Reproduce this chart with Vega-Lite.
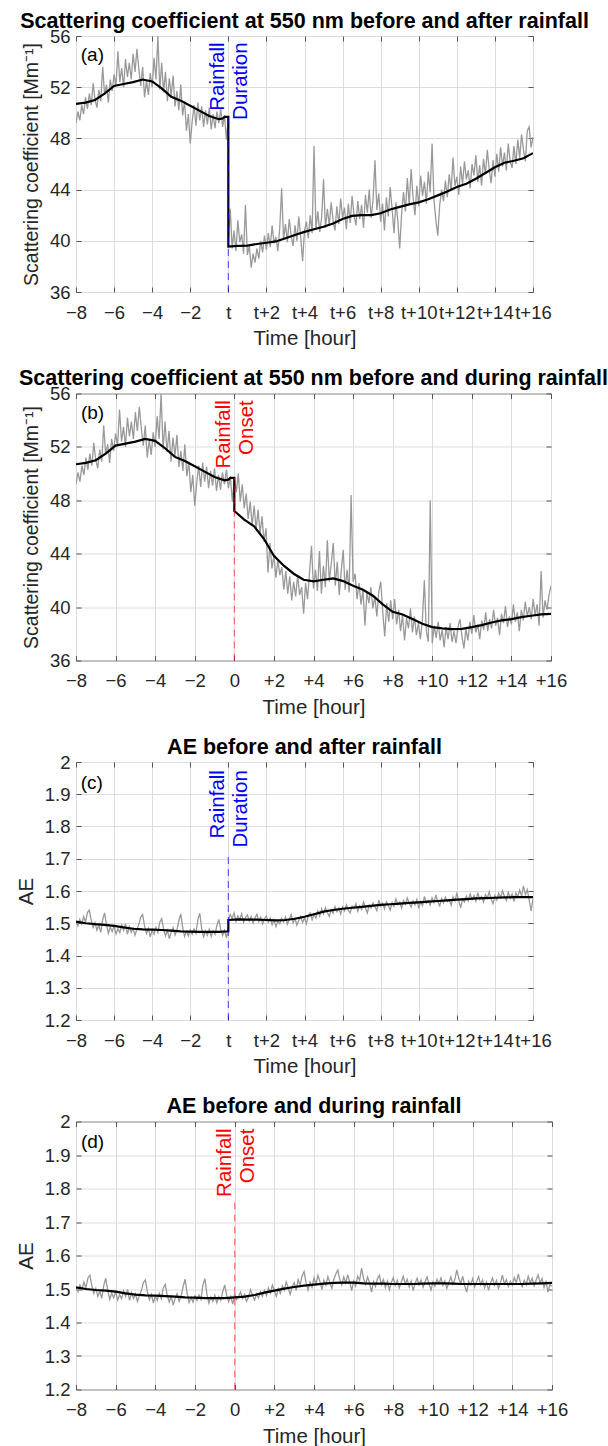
{
"$schema": "https://vega.github.io/schema/vega-lite/v6.json",
"padding": {"left": 15, "top": 10, "right": 5, "bottom": 0},
"bounds": "flush",
"spacing": 101.5,
"config": {
 "font": "Liberation Sans",
 "view": {"stroke": "#555555", "strokeWidth": 1},
 "axis": {"domain": false, "grid": true, "gridColor": "#dcdcdc", "gridWidth": 1, "tickColor": "#555555", "tickSize": -5, "tickWidth": 1, "labelFont": "Liberation Sans", "labelFontSize": 18.5, "labelColor": "#262626", "labelFlush": false, "labelOverlap": false, "labelBound": false, "titleFont": "Liberation Sans", "titleFontSize": 20.5, "titleFontWeight": "normal", "titleColor": "#262626"},
 "axisX": {"titlePadding": 7, "labelPadding": 16},
 "axisY": {"titlePadding": 8, "labelPadding": 11},
 "title": {"font": "Liberation Sans", "fontSize": 21.5, "fontWeight": "bold", "color": "#000000", "anchor": "middle", "offset": -5},
 "text": {"font": "Liberation Sans"}
},
"datasets": {
 "scPre": [{"t":-8,"v":49.2},{"t":-7.9,"v":50.1},{"t":-7.8,"v":49.4},{"t":-7.7,"v":50.6},{"t":-7.6,"v":49.9},{"t":-7.5,"v":51.2},{"t":-7.4,"v":50.3},{"t":-7.3,"v":51.5},{"t":-7.2,"v":50.6},{"t":-7.1,"v":52.3},{"t":-7,"v":51.0},{"t":-6.9,"v":50.4},{"t":-6.8,"v":51.8},{"t":-6.7,"v":50.9},{"t":-6.6,"v":53.6},{"t":-6.5,"v":51.4},{"t":-6.4,"v":52.2},{"t":-6.3,"v":50.8},{"t":-6.2,"v":52.6},{"t":-6.1,"v":51.7},{"t":-6,"v":53.0},{"t":-5.9,"v":52.1},{"t":-5.8,"v":54.8},{"t":-5.7,"v":52.4},{"t":-5.6,"v":53.5},{"t":-5.5,"v":52.0},{"t":-5.4,"v":54.2},{"t":-5.3,"v":52.8},{"t":-5.2,"v":53.9},{"t":-5.1,"v":52.6},{"t":-5,"v":54.6},{"t":-4.9,"v":53.2},{"t":-4.8,"v":55.0},{"t":-4.7,"v":53.4},{"t":-4.6,"v":52.1},{"t":-4.5,"v":53.6},{"t":-4.4,"v":51.2},{"t":-4.3,"v":52.5},{"t":-4.2,"v":51.4},{"t":-4.1,"v":53.1},{"t":-4,"v":52.0},{"t":-3.9,"v":54.3},{"t":-3.8,"v":52.6},{"t":-3.7,"v":56.0},{"t":-3.6,"v":51.8},{"t":-3.5,"v":53.9},{"t":-3.4,"v":51.6},{"t":-3.3,"v":53.2},{"t":-3.2,"v":50.9},{"t":-3.1,"v":52.7},{"t":-3,"v":51.3},{"t":-2.9,"v":52.9},{"t":-2.8,"v":50.5},{"t":-2.7,"v":51.7},{"t":-2.6,"v":50.2},{"t":-2.5,"v":52.2},{"t":-2.4,"v":49.8},{"t":-2.3,"v":50.9},{"t":-2.2,"v":48.6},{"t":-2.1,"v":49.9},{"t":-2,"v":47.6},{"t":-1.9,"v":49.3},{"t":-1.8,"v":50.6},{"t":-1.7,"v":49.0},{"t":-1.6,"v":50.8},{"t":-1.5,"v":49.4},{"t":-1.4,"v":50.5},{"t":-1.3,"v":48.9},{"t":-1.2,"v":50.2},{"t":-1.1,"v":49.1},{"t":-1,"v":50.4},{"t":-0.9,"v":48.7},{"t":-0.8,"v":49.9},{"t":-0.7,"v":48.8},{"t":-0.6,"v":50.1},{"t":-0.5,"v":49.2},{"t":-0.4,"v":50.3},{"t":-0.3,"v":48.9},{"t":-0.2,"v":49.8},{"t":-0.1,"v":47.9},{"t":0,"v":49.6}],
 "scPostA": [{"t":0,"v":39.8},{"t":0.1,"v":42.5},{"t":0.2,"v":39.4},{"t":0.3,"v":40.8},{"t":0.4,"v":39.2},{"t":0.5,"v":41.6},{"t":0.6,"v":39.9},{"t":0.7,"v":40.5},{"t":0.8,"v":39.0},{"t":0.9,"v":42.8},{"t":1,"v":38.9},{"t":1.1,"v":39.6},{"t":1.2,"v":37.9},{"t":1.3,"v":39.0},{"t":1.4,"v":38.3},{"t":1.5,"v":39.4},{"t":1.6,"v":38.6},{"t":1.7,"v":40.0},{"t":1.8,"v":39.1},{"t":1.9,"v":40.4},{"t":2,"v":39.3},{"t":2.1,"v":40.6},{"t":2.2,"v":39.5},{"t":2.3,"v":41.2},{"t":2.4,"v":39.8},{"t":2.5,"v":40.3},{"t":2.6,"v":39.2},{"t":2.7,"v":41.0},{"t":2.8,"v":44.1},{"t":2.9,"v":40.1},{"t":3,"v":41.3},{"t":3.1,"v":39.9},{"t":3.2,"v":41.7},{"t":3.3,"v":40.4},{"t":3.4,"v":39.6},{"t":3.5,"v":41.2},{"t":3.6,"v":40.0},{"t":3.7,"v":41.9},{"t":3.8,"v":40.3},{"t":3.9,"v":38.4},{"t":4,"v":40.8},{"t":4.1,"v":41.5},{"t":4.2,"v":40.2},{"t":4.3,"v":42.0},{"t":4.4,"v":40.6},{"t":4.5,"v":47.4},{"t":4.6,"v":40.9},{"t":4.7,"v":42.3},{"t":4.8,"v":40.7},{"t":4.9,"v":41.8},{"t":5,"v":44.8},{"t":5.1,"v":41.0},{"t":5.2,"v":42.5},{"t":5.3,"v":41.2},{"t":5.4,"v":43.0},{"t":5.5,"v":41.6},{"t":5.6,"v":40.8},{"t":5.7,"v":42.7},{"t":5.8,"v":41.3},{"t":5.9,"v":43.3},{"t":6,"v":41.8},{"t":6.1,"v":42.6},{"t":6.2,"v":40.9},{"t":6.3,"v":42.9},{"t":6.4,"v":41.4},{"t":6.5,"v":43.5},{"t":6.6,"v":42.0},{"t":6.7,"v":41.2},{"t":6.8,"v":43.1},{"t":6.9,"v":41.7},{"t":7,"v":42.8},{"t":7.1,"v":41.0},{"t":7.2,"v":43.6},{"t":7.3,"v":42.2},{"t":7.4,"v":44.0},{"t":7.5,"v":41.8},{"t":7.6,"v":43.2},{"t":7.7,"v":46.3},{"t":7.8,"v":42.4},{"t":7.9,"v":43.7},{"t":8,"v":41.5},{"t":8.1,"v":42.9},{"t":8.2,"v":40.8},{"t":8.3,"v":43.4},{"t":8.4,"v":41.9},{"t":8.5,"v":44.2},{"t":8.6,"v":42.5},{"t":8.7,"v":40.6},{"t":8.8,"v":43.0},{"t":8.9,"v":41.6},{"t":9,"v":39.4},{"t":9.1,"v":42.1},{"t":9.2,"v":43.8},{"t":9.3,"v":42.3},{"t":9.4,"v":44.9},{"t":9.5,"v":42.8},{"t":9.6,"v":45.6},{"t":9.7,"v":43.4},{"t":9.8,"v":42.0},{"t":9.9,"v":44.3},{"t":10,"v":42.7},{"t":10.1,"v":45.1},{"t":10.2,"v":43.5},{"t":10.3,"v":44.6},{"t":10.4,"v":42.9},{"t":10.5,"v":45.4},{"t":10.6,"v":43.8},{"t":10.7,"v":47.6},{"t":10.8,"v":43.2},{"t":10.9,"v":41.6},{"t":11,"v":40.4},{"t":11.1,"v":42.8},{"t":11.2,"v":44.0},{"t":11.3,"v":43.1},{"t":11.4,"v":44.7},{"t":11.5,"v":43.4},{"t":11.6,"v":45.2},{"t":11.7,"v":43.9},{"t":11.8,"v":46.5},{"t":11.9,"v":44.3},{"t":12,"v":45.0},{"t":12.1,"v":43.6},{"t":12.2,"v":45.8},{"t":12.3,"v":44.4},{"t":12.4,"v":46.2},{"t":12.5,"v":44.8},{"t":12.6,"v":45.5},{"t":12.7,"v":44.1},{"t":12.8,"v":46.0},{"t":12.9,"v":45.1},{"t":13,"v":46.7},{"t":13.1,"v":44.6},{"t":13.2,"v":45.9},{"t":13.3,"v":44.3},{"t":13.4,"v":46.4},{"t":13.5,"v":45.2},{"t":13.6,"v":47.1},{"t":13.7,"v":45.6},{"t":13.8,"v":44.5},{"t":13.9,"v":46.3},{"t":14,"v":45.0},{"t":14.1,"v":46.8},{"t":14.2,"v":45.4},{"t":14.3,"v":47.3},{"t":14.4,"v":45.8},{"t":14.5,"v":46.9},{"t":14.6,"v":45.5},{"t":14.7,"v":47.6},{"t":14.8,"v":46.2},{"t":14.9,"v":45.7},{"t":15,"v":47.4},{"t":15.1,"v":46.0},{"t":15.2,"v":47.9},{"t":15.3,"v":46.5},{"t":15.4,"v":48.3},{"t":15.5,"v":47.1},{"t":15.6,"v":46.2},{"t":15.7,"v":48.6},{"t":15.8,"v":48.9},{"t":15.9,"v":47.3},{"t":16,"v":48.1}],
 "scPostB": [{"t":0,"v":49.7},{"t":0.1,"v":48.6},{"t":0.2,"v":50.0},{"t":0.3,"v":47.9},{"t":0.4,"v":49.2},{"t":0.5,"v":47.4},{"t":0.6,"v":48.5},{"t":0.7,"v":46.6},{"t":0.8,"v":47.9},{"t":0.9,"v":46.1},{"t":1,"v":47.6},{"t":1.1,"v":45.8},{"t":1.2,"v":47.3},{"t":1.3,"v":45.5},{"t":1.4,"v":46.8},{"t":1.5,"v":44.9},{"t":1.6,"v":45.9},{"t":1.7,"v":42.6},{"t":1.8,"v":44.8},{"t":1.9,"v":42.9},{"t":2,"v":43.9},{"t":2.1,"v":42.2},{"t":2.2,"v":43.5},{"t":2.3,"v":42.4},{"t":2.4,"v":43.0},{"t":2.5,"v":41.3},{"t":2.6,"v":42.7},{"t":2.7,"v":41.0},{"t":2.8,"v":42.3},{"t":2.9,"v":40.5},{"t":3,"v":41.9},{"t":3.1,"v":40.8},{"t":3.2,"v":42.4},{"t":3.3,"v":40.9},{"t":3.4,"v":41.5},{"t":3.5,"v":39.5},{"t":3.6,"v":41.8},{"t":3.7,"v":40.6},{"t":3.8,"v":42.6},{"t":3.9,"v":44.6},{"t":4,"v":41.4},{"t":4.1,"v":42.8},{"t":4.2,"v":41.2},{"t":4.3,"v":44.2},{"t":4.4,"v":41.0},{"t":4.5,"v":43.1},{"t":4.6,"v":41.5},{"t":4.7,"v":45.0},{"t":4.8,"v":41.9},{"t":4.9,"v":43.3},{"t":5,"v":44.8},{"t":5.1,"v":41.6},{"t":5.2,"v":43.4},{"t":5.3,"v":40.9},{"t":5.4,"v":42.7},{"t":5.5,"v":44.3},{"t":5.6,"v":41.3},{"t":5.7,"v":42.8},{"t":5.8,"v":41.1},{"t":5.9,"v":48.4},{"t":6,"v":41.9},{"t":6.1,"v":42.5},{"t":6.2,"v":40.6},{"t":6.3,"v":41.8},{"t":6.4,"v":40.2},{"t":6.5,"v":41.3},{"t":6.6,"v":38.6},{"t":6.7,"v":41.1},{"t":6.8,"v":40.3},{"t":6.9,"v":41.5},{"t":7,"v":39.9},{"t":7.1,"v":40.8},{"t":7.2,"v":39.3},{"t":7.3,"v":41.2},{"t":7.4,"v":41.9},{"t":7.5,"v":39.6},{"t":7.6,"v":37.8},{"t":7.7,"v":40.3},{"t":7.8,"v":38.9},{"t":7.9,"v":40.5},{"t":8,"v":39.1},{"t":8.1,"v":40.6},{"t":8.2,"v":38.7},{"t":8.3,"v":39.8},{"t":8.4,"v":38.2},{"t":8.5,"v":39.4},{"t":8.6,"v":37.5},{"t":8.7,"v":39.2},{"t":8.8,"v":38.4},{"t":8.9,"v":39.9},{"t":9,"v":38.1},{"t":9.1,"v":39.3},{"t":9.2,"v":37.9},{"t":9.3,"v":38.8},{"t":9.4,"v":37.6},{"t":9.5,"v":39.0},{"t":9.6,"v":42.0},{"t":9.7,"v":38.2},{"t":9.8,"v":37.4},{"t":9.9,"v":48.0},{"t":10,"v":37.3},{"t":10.1,"v":38.6},{"t":10.2,"v":37.7},{"t":10.3,"v":38.9},{"t":10.4,"v":37.5},{"t":10.5,"v":38.3},{"t":10.6,"v":37.0},{"t":10.7,"v":38.5},{"t":10.8,"v":37.6},{"t":10.9,"v":38.8},{"t":11,"v":37.4},{"t":11.1,"v":38.2},{"t":11.2,"v":37.3},{"t":11.3,"v":38.5},{"t":11.4,"v":39.1},{"t":11.5,"v":37.8},{"t":11.6,"v":36.9},{"t":11.7,"v":38.4},{"t":11.8,"v":37.5},{"t":11.9,"v":38.9},{"t":12,"v":38.0},{"t":12.1,"v":39.4},{"t":12.2,"v":38.1},{"t":12.3,"v":38.7},{"t":12.4,"v":37.6},{"t":12.5,"v":39.0},{"t":12.6,"v":38.3},{"t":12.7,"v":39.6},{"t":12.8,"v":38.2},{"t":12.9,"v":39.1},{"t":13,"v":38.4},{"t":13.1,"v":39.8},{"t":13.2,"v":38.6},{"t":13.3,"v":39.2},{"t":13.4,"v":37.9},{"t":13.5,"v":39.5},{"t":13.6,"v":38.8},{"t":13.7,"v":40.1},{"t":13.8,"v":38.5},{"t":13.9,"v":39.3},{"t":14,"v":38.7},{"t":14.1,"v":40.2},{"t":14.2,"v":38.9},{"t":14.3,"v":39.6},{"t":14.4,"v":38.2},{"t":14.5,"v":39.8},{"t":14.6,"v":39.0},{"t":14.7,"v":40.4},{"t":14.8,"v":39.3},{"t":14.9,"v":40.0},{"t":15,"v":39.1},{"t":15.1,"v":40.6},{"t":15.2,"v":39.4},{"t":15.3,"v":40.2},{"t":15.4,"v":38.6},{"t":15.5,"v":42.7},{"t":15.6,"v":39.2},{"t":15.7,"v":40.5},{"t":15.8,"v":39.8},{"t":15.9,"v":40.9},{"t":16,"v":41.6}],
 "aePre": [{"t":-8,"v":1.505},{"t":-7.9,"v":1.492},{"t":-7.8,"v":1.512},{"t":-7.7,"v":1.498},{"t":-7.6,"v":1.521},{"t":-7.5,"v":1.503},{"t":-7.4,"v":1.533},{"t":-7.3,"v":1.541},{"t":-7.2,"v":1.509},{"t":-7.1,"v":1.487},{"t":-7,"v":1.502},{"t":-6.9,"v":1.478},{"t":-6.8,"v":1.494},{"t":-6.7,"v":1.472},{"t":-6.6,"v":1.511},{"t":-6.5,"v":1.532},{"t":-6.4,"v":1.496},{"t":-6.3,"v":1.469},{"t":-6.2,"v":1.488},{"t":-6.1,"v":1.474},{"t":-6,"v":1.492},{"t":-5.9,"v":1.467},{"t":-5.8,"v":1.483},{"t":-5.7,"v":1.471},{"t":-5.6,"v":1.495},{"t":-5.5,"v":1.478},{"t":-5.4,"v":1.499},{"t":-5.3,"v":1.466},{"t":-5.2,"v":1.489},{"t":-5.1,"v":1.472},{"t":-5,"v":1.485},{"t":-4.9,"v":1.463},{"t":-4.8,"v":1.481},{"t":-4.7,"v":1.496},{"t":-4.6,"v":1.519},{"t":-4.5,"v":1.527},{"t":-4.4,"v":1.491},{"t":-4.3,"v":1.468},{"t":-4.2,"v":1.484},{"t":-4.1,"v":1.458},{"t":-4,"v":1.479},{"t":-3.9,"v":1.466},{"t":-3.8,"v":1.487},{"t":-3.7,"v":1.471},{"t":-3.6,"v":1.503},{"t":-3.5,"v":1.514},{"t":-3.4,"v":1.482},{"t":-3.3,"v":1.461},{"t":-3.2,"v":1.478},{"t":-3.1,"v":1.452},{"t":-3,"v":1.473},{"t":-2.9,"v":1.486},{"t":-2.8,"v":1.463},{"t":-2.7,"v":1.479},{"t":-2.6,"v":1.507},{"t":-2.5,"v":1.529},{"t":-2.4,"v":1.488},{"t":-2.3,"v":1.459},{"t":-2.2,"v":1.475},{"t":-2.1,"v":1.461},{"t":-2,"v":1.479},{"t":-1.9,"v":1.466},{"t":-1.8,"v":1.482},{"t":-1.7,"v":1.469},{"t":-1.6,"v":1.512},{"t":-1.5,"v":1.531},{"t":-1.4,"v":1.484},{"t":-1.3,"v":1.458},{"t":-1.2,"v":1.476},{"t":-1.1,"v":1.463},{"t":-1,"v":1.481},{"t":-0.9,"v":1.459},{"t":-0.8,"v":1.477},{"t":-0.7,"v":1.466},{"t":-0.6,"v":1.493},{"t":-0.5,"v":1.512},{"t":-0.4,"v":1.481},{"t":-0.3,"v":1.462},{"t":-0.2,"v":1.478},{"t":-0.1,"v":1.455},{"t":0,"v":1.486}],
 "aePostC": [{"t":0,"v":1.508},{"t":0.1,"v":1.527},{"t":0.2,"v":1.514},{"t":0.3,"v":1.532},{"t":0.4,"v":1.506},{"t":0.5,"v":1.523},{"t":0.6,"v":1.511},{"t":0.7,"v":1.529},{"t":0.8,"v":1.503},{"t":0.9,"v":1.518},{"t":1,"v":1.526},{"t":1.1,"v":1.507},{"t":1.2,"v":1.521},{"t":1.3,"v":1.501},{"t":1.4,"v":1.517},{"t":1.5,"v":1.528},{"t":1.6,"v":1.505},{"t":1.7,"v":1.519},{"t":1.8,"v":1.498},{"t":1.9,"v":1.514},{"t":2,"v":1.522},{"t":2.1,"v":1.503},{"t":2.2,"v":1.516},{"t":2.3,"v":1.495},{"t":2.4,"v":1.511},{"t":2.5,"v":1.489},{"t":2.6,"v":1.507},{"t":2.7,"v":1.498},{"t":2.8,"v":1.515},{"t":2.9,"v":1.504},{"t":3,"v":1.519},{"t":3.1,"v":1.497},{"t":3.2,"v":1.512},{"t":3.3,"v":1.527},{"t":3.4,"v":1.501},{"t":3.5,"v":1.515},{"t":3.6,"v":1.494},{"t":3.7,"v":1.509},{"t":3.8,"v":1.521},{"t":3.9,"v":1.502},{"t":4,"v":1.517},{"t":4.1,"v":1.499},{"t":4.2,"v":1.524},{"t":4.3,"v":1.532},{"t":4.4,"v":1.511},{"t":4.5,"v":1.527},{"t":4.6,"v":1.516},{"t":4.7,"v":1.538},{"t":4.8,"v":1.522},{"t":4.9,"v":1.545},{"t":5,"v":1.529},{"t":5.1,"v":1.548},{"t":5.2,"v":1.533},{"t":5.3,"v":1.521},{"t":5.4,"v":1.542},{"t":5.5,"v":1.531},{"t":5.6,"v":1.552},{"t":5.7,"v":1.536},{"t":5.8,"v":1.547},{"t":5.9,"v":1.529},{"t":6,"v":1.551},{"t":6.1,"v":1.538},{"t":6.2,"v":1.557},{"t":6.3,"v":1.541},{"t":6.4,"v":1.532},{"t":6.5,"v":1.553},{"t":6.6,"v":1.546},{"t":6.7,"v":1.561},{"t":6.8,"v":1.537},{"t":6.9,"v":1.554},{"t":7,"v":1.543},{"t":7.1,"v":1.566},{"t":7.2,"v":1.548},{"t":7.3,"v":1.532},{"t":7.4,"v":1.556},{"t":7.5,"v":1.547},{"t":7.6,"v":1.563},{"t":7.7,"v":1.551},{"t":7.8,"v":1.539},{"t":7.9,"v":1.572},{"t":8,"v":1.553},{"t":8.1,"v":1.562},{"t":8.2,"v":1.545},{"t":8.3,"v":1.567},{"t":8.4,"v":1.556},{"t":8.5,"v":1.541},{"t":8.6,"v":1.564},{"t":8.7,"v":1.552},{"t":8.8,"v":1.575},{"t":8.9,"v":1.558},{"t":9,"v":1.566},{"t":9.1,"v":1.547},{"t":9.2,"v":1.571},{"t":9.3,"v":1.559},{"t":9.4,"v":1.578},{"t":9.5,"v":1.562},{"t":9.6,"v":1.551},{"t":9.7,"v":1.569},{"t":9.8,"v":1.557},{"t":9.9,"v":1.574},{"t":10,"v":1.546},{"t":10.1,"v":1.567},{"t":10.2,"v":1.555},{"t":10.3,"v":1.583},{"t":10.4,"v":1.562},{"t":10.5,"v":1.571},{"t":10.6,"v":1.556},{"t":10.7,"v":1.579},{"t":10.8,"v":1.564},{"t":10.9,"v":1.588},{"t":11,"v":1.566},{"t":11.1,"v":1.554},{"t":11.2,"v":1.577},{"t":11.3,"v":1.563},{"t":11.4,"v":1.581},{"t":11.5,"v":1.567},{"t":11.6,"v":1.573},{"t":11.7,"v":1.556},{"t":11.8,"v":1.582},{"t":11.9,"v":1.569},{"t":12,"v":1.592},{"t":12.1,"v":1.571},{"t":12.2,"v":1.548},{"t":12.3,"v":1.575},{"t":12.4,"v":1.566},{"t":12.5,"v":1.584},{"t":12.6,"v":1.569},{"t":12.7,"v":1.591},{"t":12.8,"v":1.573},{"t":12.9,"v":1.586},{"t":13,"v":1.568},{"t":13.1,"v":1.595},{"t":13.2,"v":1.574},{"t":13.3,"v":1.583},{"t":13.4,"v":1.566},{"t":13.5,"v":1.589},{"t":13.6,"v":1.577},{"t":13.7,"v":1.598},{"t":13.8,"v":1.575},{"t":13.9,"v":1.561},{"t":14,"v":1.586},{"t":14.1,"v":1.572},{"t":14.2,"v":1.593},{"t":14.3,"v":1.579},{"t":14.4,"v":1.601},{"t":14.5,"v":1.583},{"t":14.6,"v":1.571},{"t":14.7,"v":1.596},{"t":14.8,"v":1.578},{"t":14.9,"v":1.591},{"t":15,"v":1.567},{"t":15.1,"v":1.594},{"t":15.2,"v":1.582},{"t":15.3,"v":1.603},{"t":15.4,"v":1.585},{"t":15.5,"v":1.616},{"t":15.6,"v":1.589},{"t":15.7,"v":1.604},{"t":15.8,"v":1.572},{"t":15.9,"v":1.538},{"t":16,"v":1.576}],
 "aePostD": [{"t":0,"v":1.486},{"t":0.1,"v":1.468},{"t":0.2,"v":1.479},{"t":0.3,"v":1.491},{"t":0.4,"v":1.472},{"t":0.5,"v":1.484},{"t":0.6,"v":1.463},{"t":0.7,"v":1.476},{"t":0.8,"v":1.498},{"t":0.9,"v":1.481},{"t":1,"v":1.467},{"t":1.1,"v":1.485},{"t":1.2,"v":1.473},{"t":1.3,"v":1.492},{"t":1.4,"v":1.478},{"t":1.5,"v":1.496},{"t":1.6,"v":1.481},{"t":1.7,"v":1.503},{"t":1.8,"v":1.488},{"t":1.9,"v":1.512},{"t":2,"v":1.494},{"t":2.1,"v":1.478},{"t":2.2,"v":1.501},{"t":2.3,"v":1.487},{"t":2.4,"v":1.509},{"t":2.5,"v":1.496},{"t":2.6,"v":1.521},{"t":2.7,"v":1.503},{"t":2.8,"v":1.484},{"t":2.9,"v":1.507},{"t":3,"v":1.519},{"t":3.1,"v":1.496},{"t":3.2,"v":1.528},{"t":3.3,"v":1.511},{"t":3.4,"v":1.539},{"t":3.5,"v":1.552},{"t":3.6,"v":1.518},{"t":3.7,"v":1.497},{"t":3.8,"v":1.521},{"t":3.9,"v":1.505},{"t":4,"v":1.533},{"t":4.1,"v":1.514},{"t":4.2,"v":1.541},{"t":4.3,"v":1.522},{"t":4.4,"v":1.498},{"t":4.5,"v":1.526},{"t":4.6,"v":1.511},{"t":4.7,"v":1.537},{"t":4.8,"v":1.519},{"t":4.9,"v":1.502},{"t":5,"v":1.529},{"t":5.1,"v":1.545},{"t":5.2,"v":1.557},{"t":5.3,"v":1.528},{"t":5.4,"v":1.512},{"t":5.5,"v":1.536},{"t":5.6,"v":1.518},{"t":5.7,"v":1.543},{"t":5.8,"v":1.521},{"t":5.9,"v":1.495},{"t":6,"v":1.524},{"t":6.1,"v":1.509},{"t":6.2,"v":1.538},{"t":6.3,"v":1.526},{"t":6.4,"v":1.562},{"t":6.5,"v":1.531},{"t":6.6,"v":1.514},{"t":6.7,"v":1.536},{"t":6.8,"v":1.519},{"t":6.9,"v":1.491},{"t":7,"v":1.522},{"t":7.1,"v":1.507},{"t":7.2,"v":1.531},{"t":7.3,"v":1.541},{"t":7.4,"v":1.513},{"t":7.5,"v":1.528},{"t":7.6,"v":1.504},{"t":7.7,"v":1.523},{"t":7.8,"v":1.498},{"t":7.9,"v":1.519},{"t":8,"v":1.534},{"t":8.1,"v":1.511},{"t":8.2,"v":1.526},{"t":8.3,"v":1.503},{"t":8.4,"v":1.521},{"t":8.5,"v":1.538},{"t":8.6,"v":1.515},{"t":8.7,"v":1.529},{"t":8.8,"v":1.506},{"t":8.9,"v":1.524},{"t":9,"v":1.495},{"t":9.1,"v":1.517},{"t":9.2,"v":1.532},{"t":9.3,"v":1.512},{"t":9.4,"v":1.527},{"t":9.5,"v":1.505},{"t":9.6,"v":1.522},{"t":9.7,"v":1.536},{"t":9.8,"v":1.514},{"t":9.9,"v":1.497},{"t":10,"v":1.521},{"t":10.1,"v":1.508},{"t":10.2,"v":1.529},{"t":10.3,"v":1.516},{"t":10.4,"v":1.533},{"t":10.5,"v":1.511},{"t":10.6,"v":1.524},{"t":10.7,"v":1.502},{"t":10.8,"v":1.519},{"t":10.9,"v":1.536},{"t":11,"v":1.514},{"t":11.1,"v":1.528},{"t":11.2,"v":1.557},{"t":11.3,"v":1.532},{"t":11.4,"v":1.517},{"t":11.5,"v":1.538},{"t":11.6,"v":1.509},{"t":11.7,"v":1.491},{"t":11.8,"v":1.523},{"t":11.9,"v":1.512},{"t":12,"v":1.531},{"t":12.1,"v":1.506},{"t":12.2,"v":1.522},{"t":12.3,"v":1.537},{"t":12.4,"v":1.513},{"t":12.5,"v":1.527},{"t":12.6,"v":1.504},{"t":12.7,"v":1.521},{"t":12.8,"v":1.496},{"t":12.9,"v":1.518},{"t":13,"v":1.533},{"t":13.1,"v":1.511},{"t":13.2,"v":1.526},{"t":13.3,"v":1.502},{"t":13.4,"v":1.519},{"t":13.5,"v":1.541},{"t":13.6,"v":1.515},{"t":13.7,"v":1.528},{"t":13.8,"v":1.507},{"t":13.9,"v":1.523},{"t":14,"v":1.512},{"t":14.1,"v":1.534},{"t":14.2,"v":1.518},{"t":14.3,"v":1.545},{"t":14.4,"v":1.521},{"t":14.5,"v":1.507},{"t":14.6,"v":1.526},{"t":14.7,"v":1.513},{"t":14.8,"v":1.538},{"t":14.9,"v":1.519},{"t":15,"v":1.532},{"t":15.1,"v":1.509},{"t":15.2,"v":1.527},{"t":15.3,"v":1.542},{"t":15.4,"v":1.518},{"t":15.5,"v":1.531},{"t":15.6,"v":1.505},{"t":15.7,"v":1.522},{"t":15.8,"v":1.491},{"t":15.9,"v":1.514},{"t":16,"v":1.508}],
 "blkA": [{"t":-8,"v":50.7},{"t":-7.5,"v":50.8},{"t":-7,"v":51.0},{"t":-6.5,"v":51.5},{"t":-6,"v":52.1},{"t":-5.5,"v":52.25},{"t":-5,"v":52.4},{"t":-4.5,"v":52.6},{"t":-4,"v":52.45},{"t":-3.5,"v":51.9},{"t":-3,"v":51.25},{"t":-2.5,"v":50.95},{"t":-2,"v":50.55},{"t":-1.5,"v":50.15},{"t":-1,"v":49.75},{"t":-0.5,"v":49.5},{"t":-0.3,"v":49.55},{"t":-0.2,"v":49.68},{"t":0,"v":49.68},{"t":0,"v":39.55},{"t":0.5,"v":39.6},{"t":1,"v":39.62},{"t":1.5,"v":39.75},{"t":2,"v":39.85},{"t":2.5,"v":39.95},{"t":3,"v":40.2},{"t":3.5,"v":40.45},{"t":4,"v":40.7},{"t":4.5,"v":40.9},{"t":5,"v":41.1},{"t":5.5,"v":41.35},{"t":6,"v":41.7},{"t":6.5,"v":41.95},{"t":7,"v":42.0},{"t":7.5,"v":42.0},{"t":8,"v":42.15},{"t":8.5,"v":42.45},{"t":9,"v":42.65},{"t":9.5,"v":42.85},{"t":10,"v":43.0},{"t":10.5,"v":43.25},{"t":11,"v":43.55},{"t":11.5,"v":43.85},{"t":12,"v":44.2},{"t":12.5,"v":44.45},{"t":13,"v":44.85},{"t":13.5,"v":45.3},{"t":14,"v":45.75},{"t":14.5,"v":46.1},{"t":15,"v":46.25},{"t":15.5,"v":46.45},{"t":16,"v":46.85}],
 "blkB": [{"t":-8,"v":50.7},{"t":-7.5,"v":50.8},{"t":-7,"v":51.0},{"t":-6.5,"v":51.5},{"t":-6,"v":52.1},{"t":-5.5,"v":52.25},{"t":-5,"v":52.4},{"t":-4.5,"v":52.6},{"t":-4,"v":52.45},{"t":-3.5,"v":51.9},{"t":-3,"v":51.25},{"t":-2.5,"v":50.95},{"t":-2,"v":50.55},{"t":-1.5,"v":50.15},{"t":-1,"v":49.75},{"t":-0.5,"v":49.5},{"t":-0.3,"v":49.55},{"t":-0.2,"v":49.68},{"t":0,"v":49.68},{"t":0,"v":47.2},{"t":0.5,"v":46.55},{"t":1,"v":46.05},{"t":1.5,"v":45.1},{"t":2,"v":43.85},{"t":2.5,"v":43.1},{"t":3,"v":42.5},{"t":3.5,"v":42.05},{"t":4,"v":41.93},{"t":4.5,"v":42.05},{"t":5,"v":42.15},{"t":5.5,"v":41.95},{"t":6,"v":41.6},{"t":6.5,"v":41.3},{"t":7,"v":40.85},{"t":7.5,"v":40.2},{"t":8,"v":39.65},{"t":8.5,"v":39.45},{"t":9,"v":39.1},{"t":9.5,"v":38.75},{"t":10,"v":38.5},{"t":10.5,"v":38.4},{"t":11,"v":38.35},{"t":11.5,"v":38.37},{"t":12,"v":38.5},{"t":12.5,"v":38.65},{"t":13,"v":38.85},{"t":13.5,"v":39.0},{"t":14,"v":39.1},{"t":14.5,"v":39.25},{"t":15,"v":39.35},{"t":15.5,"v":39.45},{"t":16,"v":39.5}],
 "blkC": [{"t":-8,"v":1.505},{"t":-7.5,"v":1.5},{"t":-7,"v":1.497},{"t":-6.5,"v":1.495},{"t":-6,"v":1.492},{"t":-5.5,"v":1.487},{"t":-5,"v":1.483},{"t":-4.5,"v":1.481},{"t":-4,"v":1.48},{"t":-3.5,"v":1.479},{"t":-3,"v":1.477},{"t":-2.5,"v":1.475},{"t":-2,"v":1.474},{"t":-1.5,"v":1.473},{"t":-1,"v":1.473},{"t":-0.5,"v":1.473},{"t":0,"v":1.475},{"t":0,"v":1.51},{"t":0.5,"v":1.512},{"t":1,"v":1.511},{"t":1.5,"v":1.511},{"t":2,"v":1.51},{"t":2.5,"v":1.509},{"t":3,"v":1.51},{"t":3.5,"v":1.514},{"t":4,"v":1.52},{"t":4.5,"v":1.528},{"t":5,"v":1.536},{"t":5.5,"v":1.541},{"t":6,"v":1.545},{"t":6.5,"v":1.548},{"t":7,"v":1.551},{"t":7.5,"v":1.554},{"t":8,"v":1.557},{"t":8.5,"v":1.559},{"t":9,"v":1.561},{"t":9.5,"v":1.563},{"t":10,"v":1.565},{"t":10.5,"v":1.567},{"t":11,"v":1.569},{"t":11.5,"v":1.571},{"t":12,"v":1.573},{"t":12.5,"v":1.575},{"t":13,"v":1.577},{"t":13.5,"v":1.578},{"t":14,"v":1.579},{"t":14.5,"v":1.58},{"t":15,"v":1.581},{"t":15.5,"v":1.581},{"t":16,"v":1.581}],
 "blkD": [{"t":-8,"v":1.505},{"t":-7.5,"v":1.5},{"t":-7,"v":1.497},{"t":-6.5,"v":1.495},{"t":-6,"v":1.492},{"t":-5.5,"v":1.487},{"t":-5,"v":1.483},{"t":-4.5,"v":1.481},{"t":-4,"v":1.48},{"t":-3.5,"v":1.479},{"t":-3,"v":1.477},{"t":-2.5,"v":1.475},{"t":-2,"v":1.474},{"t":-1.5,"v":1.473},{"t":-1,"v":1.473},{"t":-0.5,"v":1.473},{"t":0,"v":1.475},{"t":0.5,"v":1.477},{"t":1,"v":1.482},{"t":1.5,"v":1.489},{"t":2,"v":1.495},{"t":2.5,"v":1.501},{"t":3,"v":1.506},{"t":3.5,"v":1.51},{"t":4,"v":1.513},{"t":4.5,"v":1.516},{"t":5,"v":1.518},{"t":5.5,"v":1.519},{"t":6,"v":1.519},{"t":6.5,"v":1.517},{"t":7,"v":1.516},{"t":7.5,"v":1.516},{"t":8,"v":1.515},{"t":8.5,"v":1.515},{"t":9,"v":1.515},{"t":9.5,"v":1.516},{"t":10,"v":1.517},{"t":10.5,"v":1.517},{"t":11,"v":1.516},{"t":11.5,"v":1.515},{"t":12,"v":1.515},{"t":12.5,"v":1.515},{"t":13,"v":1.515},{"t":13.5,"v":1.515},{"t":14,"v":1.515},{"t":14.5,"v":1.515},{"t":15,"v":1.516},{"t":15.5,"v":1.517},{"t":16,"v":1.518}]
},
"vconcat": [
 {
  "width": 457, "height": 256,
  "title": "Scattering coefficient at 550 nm before and after rainfall",
  "resolve": {"axis": {"x": "independent", "y": "independent"}},
  "layer": [
    {"data": {"name": "blkA"}, "mark": {"type": "line", "clip": true, "opacity": 0}, "encoding": {"x": {"field": "t", "type": "quantitative", "scale": {"domain": [-8, 16], "nice": false, "zero": false}, "axis": {"values": [-8,-6,-4,-2,0,2,4,6,8,10,12,14,16], "labelExpr": "datum.value < 0 ? format(datum.value, 'd') : (datum.value == 0 ? 't' : 't+' + datum.value)", "title": "Time [hour]"}}, "y": {"field": "v", "type": "quantitative", "scale": {"domain": [36, 56], "nice": false, "zero": false}, "axis": {"values": [36,40,44,48,52,56], "title": "Scattering coefficient [Mm⁻¹]", "titleFontSize": 19.5}}}},
    {"data": {"name": "blkA"}, "mark": {"type": "line", "opacity": 0}, "encoding": {"x": {"field": "t", "type": "quantitative", "axis": {"orient": "top", "values": [-8,-6,-4,-2,0,2,4,6,8,10,12,14,16], "labels": false, "grid": false, "title": null, "minExtent": 0, "maxExtent": 0}}, "y": {"field": "v", "type": "quantitative", "axis": {"orient": "right", "values": [36,40,44,48,52,56], "labels": false, "grid": false, "title": null, "minExtent": 0, "maxExtent": 0}}}},
    {"data": {"name": "scPre"}, "mark": {"type": "line", "color": "#999999", "strokeWidth": 1.3, "clip": true}, "encoding": {"x": {"field": "t", "type": "quantitative", "axis": null}, "y": {"field": "v", "type": "quantitative", "axis": null}}},
    {"data": {"name": "scPostA"}, "mark": {"type": "line", "color": "#999999", "strokeWidth": 1.3, "clip": true}, "encoding": {"x": {"field": "t", "type": "quantitative", "axis": null}, "y": {"field": "v", "type": "quantitative", "axis": null}}},
    {"data": {"name": "blkA"}, "mark": {"type": "line", "color": "#000000", "strokeWidth": 2.2, "clip": true}, "encoding": {"x": {"field": "t", "type": "quantitative", "axis": null}, "y": {"field": "v", "type": "quantitative", "axis": null}}},
    {"data": {"values": [{}]}, "mark": {"type": "rule", "color": "#0000ff", "opacity": 0.6, "strokeWidth": 1.2, "strokeDash": [7, 5]}, "encoding": {"x": {"datum": 0, "axis": null}, "y": {"datum": 36, "axis": null}, "y2": {"datum": 49.6}}},
    {"data": {"values": [{}]}, "mark": {"type": "text", "text": "Rainfall", "angle": 270, "align": "right", "baseline": "bottom", "color": "#0000ff", "fontSize": 20.5}, "encoding": {"x": {"datum": 0, "axis": null}, "y": {"datum": 55.5, "axis": null}}},
    {"data": {"values": [{}]}, "mark": {"type": "text", "text": "Duration", "angle": 270, "align": "right", "baseline": "top", "dy": 3, "color": "#0000ff", "fontSize": 20.5}, "encoding": {"x": {"datum": 0, "axis": null}, "y": {"datum": 55.5, "axis": null}}},
    {"data": {"values": [{}]}, "mark": {"type": "text", "text": "(a)", "align": "left", "baseline": "top", "color": "#000000", "fontSize": 19}, "encoding": {"x": {"datum": -7.75, "axis": null}, "y": {"datum": 55.2, "axis": null}}}
  ]
 },
 {
  "width": 475, "height": 267,
  "title": "Scattering coefficient at 550 nm before and during rainfall",
  "resolve": {"axis": {"x": "independent", "y": "independent"}},
  "layer": [
    {"data": {"name": "blkB"}, "mark": {"type": "line", "clip": true, "opacity": 0}, "encoding": {"x": {"field": "t", "type": "quantitative", "scale": {"domain": [-8, 16], "nice": false, "zero": false}, "axis": {"values": [-8,-6,-4,-2,0,2,4,6,8,10,12,14,16], "labelExpr": "datum.value > 0 ? '+' + datum.value : format(datum.value, 'd')", "title": "Time [hour]"}}, "y": {"field": "v", "type": "quantitative", "scale": {"domain": [36, 56], "nice": false, "zero": false}, "axis": {"values": [36,40,44,48,52,56], "title": "Scattering coefficient [Mm⁻¹]", "titleFontSize": 19.5}}}},
    {"data": {"name": "blkB"}, "mark": {"type": "line", "opacity": 0}, "encoding": {"x": {"field": "t", "type": "quantitative", "axis": {"orient": "top", "values": [-8,-6,-4,-2,0,2,4,6,8,10,12,14,16], "labels": false, "grid": false, "title": null, "minExtent": 0, "maxExtent": 0}}, "y": {"field": "v", "type": "quantitative", "axis": {"orient": "right", "values": [36,40,44,48,52,56], "labels": false, "grid": false, "title": null, "minExtent": 0, "maxExtent": 0}}}},
    {"data": {"name": "scPre"}, "mark": {"type": "line", "color": "#999999", "strokeWidth": 1.3, "clip": true}, "encoding": {"x": {"field": "t", "type": "quantitative", "axis": null}, "y": {"field": "v", "type": "quantitative", "axis": null}}},
    {"data": {"name": "scPostB"}, "mark": {"type": "line", "color": "#999999", "strokeWidth": 1.3, "clip": true}, "encoding": {"x": {"field": "t", "type": "quantitative", "axis": null}, "y": {"field": "v", "type": "quantitative", "axis": null}}},
    {"data": {"name": "blkB"}, "mark": {"type": "line", "color": "#000000", "strokeWidth": 2.2, "clip": true}, "encoding": {"x": {"field": "t", "type": "quantitative", "axis": null}, "y": {"field": "v", "type": "quantitative", "axis": null}}},
    {"data": {"values": [{}]}, "mark": {"type": "rule", "color": "#ff0000", "opacity": 0.55, "strokeWidth": 1.2, "strokeDash": [7, 5]}, "encoding": {"x": {"datum": 0, "axis": null}, "y": {"datum": 36, "axis": null}, "y2": {"datum": 49.7}}},
    {"data": {"values": [{}]}, "mark": {"type": "text", "text": "Rainfall", "angle": 270, "align": "right", "baseline": "bottom", "color": "#ff0000", "fontSize": 20.5}, "encoding": {"x": {"datum": 0, "axis": null}, "y": {"datum": 55.5, "axis": null}}},
    {"data": {"values": [{}]}, "mark": {"type": "text", "text": "Onset", "angle": 270, "align": "right", "baseline": "top", "dy": 3, "color": "#ff0000", "fontSize": 20.5}, "encoding": {"x": {"datum": 0, "axis": null}, "y": {"datum": 55.5, "axis": null}}},
    {"data": {"values": [{}]}, "mark": {"type": "text", "text": "(b)", "align": "left", "baseline": "top", "color": "#000000", "fontSize": 19}, "encoding": {"x": {"datum": -7.75, "axis": null}, "y": {"datum": 55.2, "axis": null}}}
  ]
 },
 {
  "width": 457, "height": 258,
  "title": "AE before and after rainfall",
  "resolve": {"axis": {"x": "independent", "y": "independent"}},
  "layer": [
    {"data": {"name": "blkC"}, "mark": {"type": "line", "clip": true, "opacity": 0}, "encoding": {"x": {"field": "t", "type": "quantitative", "scale": {"domain": [-8, 16], "nice": false, "zero": false}, "axis": {"values": [-8,-6,-4,-2,0,2,4,6,8,10,12,14,16], "labelExpr": "datum.value < 0 ? format(datum.value, 'd') : (datum.value == 0 ? 't' : 't+' + datum.value)", "title": "Time [hour]"}}, "y": {"field": "v", "type": "quantitative", "scale": {"domain": [1.2, 2], "nice": false, "zero": false}, "axis": {"values": [1.2,1.3,1.4,1.5,1.6,1.7,1.8,1.9,2], "format": "~g", "title": "AE"}}}},
    {"data": {"name": "blkC"}, "mark": {"type": "line", "opacity": 0}, "encoding": {"x": {"field": "t", "type": "quantitative", "axis": {"orient": "top", "values": [-8,-6,-4,-2,0,2,4,6,8,10,12,14,16], "labels": false, "grid": false, "title": null, "minExtent": 0, "maxExtent": 0}}, "y": {"field": "v", "type": "quantitative", "axis": {"orient": "right", "values": [1.2,1.3,1.4,1.5,1.6,1.7,1.8,1.9,2], "labels": false, "grid": false, "title": null, "minExtent": 0, "maxExtent": 0}}}},
    {"data": {"name": "aePre"}, "mark": {"type": "line", "color": "#999999", "strokeWidth": 1.3, "clip": true}, "encoding": {"x": {"field": "t", "type": "quantitative", "axis": null}, "y": {"field": "v", "type": "quantitative", "axis": null}}},
    {"data": {"name": "aePostC"}, "mark": {"type": "line", "color": "#999999", "strokeWidth": 1.3, "clip": true}, "encoding": {"x": {"field": "t", "type": "quantitative", "axis": null}, "y": {"field": "v", "type": "quantitative", "axis": null}}},
    {"data": {"name": "blkC"}, "mark": {"type": "line", "color": "#000000", "strokeWidth": 2.2, "clip": true}, "encoding": {"x": {"field": "t", "type": "quantitative", "axis": null}, "y": {"field": "v", "type": "quantitative", "axis": null}}},
    {"data": {"values": [{}]}, "mark": {"type": "rule", "color": "#0000ff", "opacity": 0.6, "strokeWidth": 1.2, "strokeDash": [7, 5]}, "encoding": {"x": {"datum": 0, "axis": null}, "y": {"datum": 1.2, "axis": null}, "y2": {"datum": 1.72}}},
    {"data": {"values": [{}]}, "mark": {"type": "text", "text": "Rainfall", "angle": 270, "align": "right", "baseline": "bottom", "color": "#0000ff", "fontSize": 20.5}, "encoding": {"x": {"datum": 0, "axis": null}, "y": {"datum": 1.975, "axis": null}}},
    {"data": {"values": [{}]}, "mark": {"type": "text", "text": "Duration", "angle": 270, "align": "right", "baseline": "top", "dy": 3, "color": "#0000ff", "fontSize": 20.5}, "encoding": {"x": {"datum": 0, "axis": null}, "y": {"datum": 1.975, "axis": null}}},
    {"data": {"values": [{}]}, "mark": {"type": "text", "text": "(c)", "align": "left", "baseline": "top", "color": "#000000", "fontSize": 19}, "encoding": {"x": {"datum": -7.75, "axis": null}, "y": {"datum": 1.963, "axis": null}}}
  ]
 },
 {
  "width": 476, "height": 268,
  "title": "AE before and during rainfall",
  "resolve": {"axis": {"x": "independent", "y": "independent"}},
  "layer": [
    {"data": {"name": "blkD"}, "mark": {"type": "line", "clip": true, "opacity": 0}, "encoding": {"x": {"field": "t", "type": "quantitative", "scale": {"domain": [-8, 16], "nice": false, "zero": false}, "axis": {"values": [-8,-6,-4,-2,0,2,4,6,8,10,12,14,16], "labelExpr": "datum.value > 0 ? '+' + datum.value : format(datum.value, 'd')", "title": "Time [hour]"}}, "y": {"field": "v", "type": "quantitative", "scale": {"domain": [1.2, 2], "nice": false, "zero": false}, "axis": {"values": [1.2,1.3,1.4,1.5,1.6,1.7,1.8,1.9,2], "format": "~g", "title": "AE"}}}},
    {"data": {"name": "blkD"}, "mark": {"type": "line", "opacity": 0}, "encoding": {"x": {"field": "t", "type": "quantitative", "axis": {"orient": "top", "values": [-8,-6,-4,-2,0,2,4,6,8,10,12,14,16], "labels": false, "grid": false, "title": null, "minExtent": 0, "maxExtent": 0}}, "y": {"field": "v", "type": "quantitative", "axis": {"orient": "right", "values": [1.2,1.3,1.4,1.5,1.6,1.7,1.8,1.9,2], "labels": false, "grid": false, "title": null, "minExtent": 0, "maxExtent": 0}}}},
    {"data": {"name": "aePre"}, "mark": {"type": "line", "color": "#999999", "strokeWidth": 1.3, "clip": true}, "encoding": {"x": {"field": "t", "type": "quantitative", "axis": null}, "y": {"field": "v", "type": "quantitative", "axis": null}}},
    {"data": {"name": "aePostD"}, "mark": {"type": "line", "color": "#999999", "strokeWidth": 1.3, "clip": true}, "encoding": {"x": {"field": "t", "type": "quantitative", "axis": null}, "y": {"field": "v", "type": "quantitative", "axis": null}}},
    {"data": {"name": "blkD"}, "mark": {"type": "line", "color": "#000000", "strokeWidth": 2.2, "clip": true}, "encoding": {"x": {"field": "t", "type": "quantitative", "axis": null}, "y": {"field": "v", "type": "quantitative", "axis": null}}},
    {"data": {"values": [{}]}, "mark": {"type": "rule", "color": "#ff0000", "opacity": 0.55, "strokeWidth": 1.2, "strokeDash": [7, 5]}, "encoding": {"x": {"datum": 0, "axis": null}, "y": {"datum": 1.2, "axis": null}, "y2": {"datum": 1.76}}},
    {"data": {"values": [{}]}, "mark": {"type": "text", "text": "Rainfall", "angle": 270, "align": "right", "baseline": "bottom", "color": "#ff0000", "fontSize": 20.5}, "encoding": {"x": {"datum": 0, "axis": null}, "y": {"datum": 1.979, "axis": null}}},
    {"data": {"values": [{}]}, "mark": {"type": "text", "text": "Onset", "angle": 270, "align": "right", "baseline": "top", "dy": 3, "color": "#ff0000", "fontSize": 20.5}, "encoding": {"x": {"datum": 0, "axis": null}, "y": {"datum": 1.979, "axis": null}}},
    {"data": {"values": [{}]}, "mark": {"type": "text", "text": "(d)", "align": "left", "baseline": "top", "color": "#000000", "fontSize": 19}, "encoding": {"x": {"datum": -7.75, "axis": null}, "y": {"datum": 1.965, "axis": null}}}
  ]
 }
]
}
